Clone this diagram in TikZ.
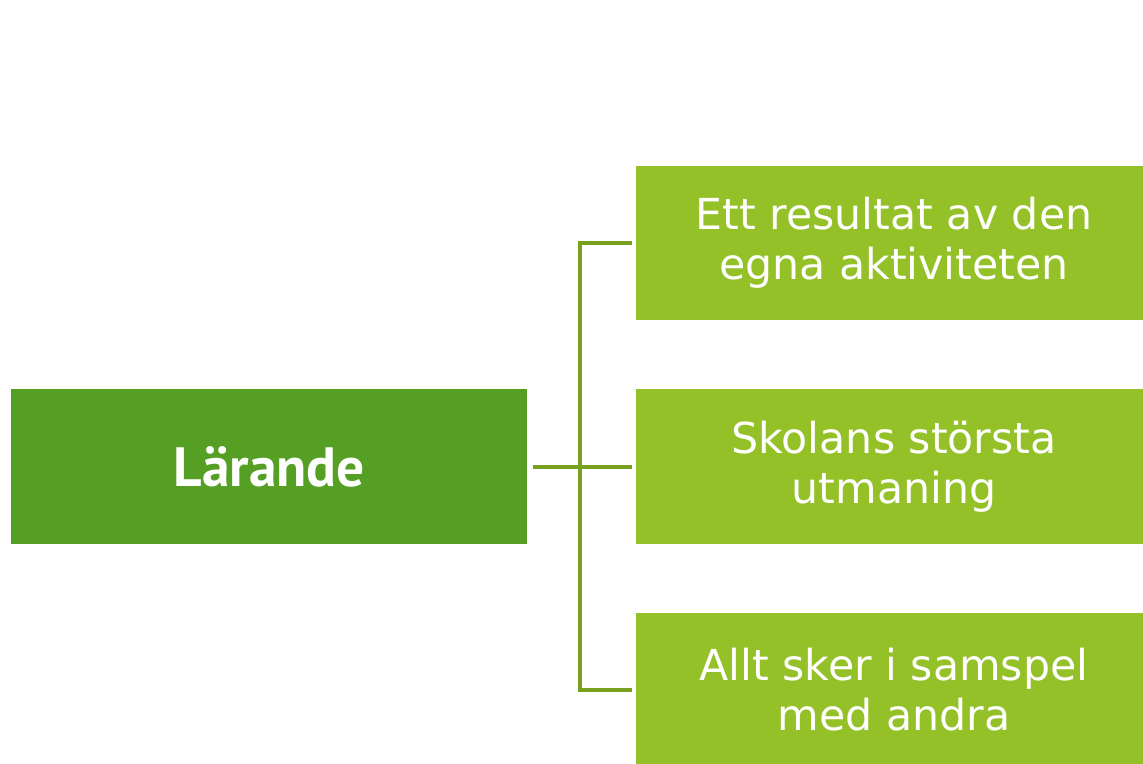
\documentclass[tikz,border=0pt]{standalone}
\usepackage{fontspec}
\setmainfont{PT Sans}
\newfontfamily\grenfont{DejaVu Sans}
\usetikzlibrary{positioning,calc}
\definecolor{dgreen}{RGB}{85,160,36}
\definecolor{lgreen}{RGB}{147,193,39}
\definecolor{lline}{RGB}{118,160,30}

\begin{document}
\begin{tikzpicture}
	[x=0.02cm,y=-0.02cm,
	mainbox/.style={fill=dgreen,text=white,minimum width=10.32cm,minimum height=3.1cm,inner sep=0pt,font=\fontsize{31.5}{37}\selectfont\bfseries},
	subbox/.style={fill=lgreen,text=white,minimum width=10.32cm,minimum height=3.1cm,inner sep=0pt,align=center,font=\grenfont\fontsize{24.3}{28.45}\selectfont},
	link/.style={draw=lline,line width=0.08cm}]
	\useasboundingbox (0,0) rectangle (1143,764);
	\clip (0,0) rectangle (1143,764);
	%%%%% MAIN BOX
	\node[mainbox] (larande) at (269,466.5) {Lärande};
	\coordinate (trunk) at (580,466.5);
	%%%%% BRANCH BOXES
	\foreach \i/\y/\t in {1/243/{Ett resultat av den\\egna aktiviteten},2/466.5/{Skolans största\\utmaning},3/690/{Allt sker i samspel\\med andra}}
	{
	\node[subbox] (gren\i) at (894,\y) {\t};
	};
	%%%%% LINKS
	\draw[link] ([xshift=-0.08cm]gren1.west) -| (trunk |- gren3.west) -- ([xshift=-0.08cm]gren3.west);
	\draw[link] ([xshift=0.12cm]larande.east) -- ([xshift=-0.08cm]gren2.west);
	\end{tikzpicture}
\end{document}
